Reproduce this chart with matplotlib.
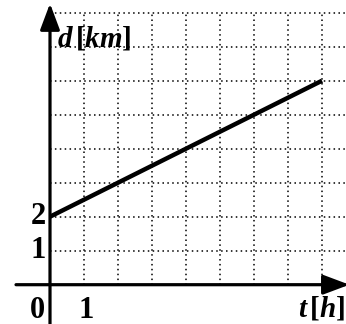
import numpy as np
import matplotlib
matplotlib.use('Agg')
import matplotlib.pyplot as plt

plt.rcParams['mathtext.fontset'] = 'custom'
plt.rcParams['mathtext.bf'] = 'Liberation Serif:bold'
plt.rcParams['mathtext.bfit'] = 'Liberation Serif:bold:italic'
plt.rcParams['mathtext.rm'] = 'Liberation Serif'
plt.rcParams['mathtext.it'] = 'Liberation Serif:italic'

# d(t) line
t_vals = [0, 8]
d_vals = [2, 6]
grid_t = [1, 2, 3, 4, 5, 6, 7, 8]
grid_d = [1, 2, 3, 4, 5, 6, 7, 8]
y_ticks = ['1', '2']
x_ticks = ['1']

W, H = 346, 324
fig = plt.figure(figsize=(W/100, H/100), dpi=100)
ax = fig.add_axes([0, 0, 1, 1])
# pixel -> data: x = 50 + 34 t, y = 284.7 - 34 d
ax.set_xlim(-50/34, (W-50)/34)
ax.set_ylim((284.7-H)/34, 284.7/34)
ax.axis('off')

xr = (W-50)/34
for d in grid_d:
    ax.plot([0, xr], [d, d], color='black', lw=1.1, ls=(0, (1, 2.2)), zorder=1)
for t in grid_t:
    ax.plot([t, t], [0, 8], color='black', lw=1.1, ls=(0, (1, 2.2)), zorder=1)

# axes with arrows
arr = dict(arrowstyle='-|>,head_length=0.8,head_width=0.3', mutation_scale=20,
           lw=2.3, color='black', shrinkA=0, shrinkB=0)
ax.annotate('', xy=(0, 8.27), xytext=(0, (284.7-H)/34 - 0.1),
            arrowprops=arr, annotation_clip=False, zorder=3)
ax.annotate('', xy=(xr+0.1, 0), xytext=(-1, 0),
            arrowprops=arr, annotation_clip=False, zorder=3)

ax.plot(t_vals, d_vals, color='black', lw=3.2, solid_capstyle='butt', zorder=4)

fnt = dict(family='Liberation Serif', weight='bold', color='black', fontsize=22)
ax.text(-0.12, 2, y_ticks[1], ha='right', va='center', **fnt)
ax.text(-0.12, 1, y_ticks[0], ha='right', va='center', **fnt)
ax.text(-0.15, -0.75, '0', ha='right', va='center', **fnt)
ax.text(1.05, -0.75, x_ticks[0], ha='center', va='center', **fnt)

ax.text(0.22, 7.0, r'$\mathbfit{d}\,\mathbf{[}\mathbfit{km}\mathbf{]}$',
        ha='left', va='baseline', fontsize=21)
ax.text(7.28, -0.95, r'$\mathbfit{t}\,\mathbf{[}\mathbfit{h}\mathbf{]}$',
        ha='left', va='baseline', fontsize=21)

fig.savefig('out.png', dpi=100)
